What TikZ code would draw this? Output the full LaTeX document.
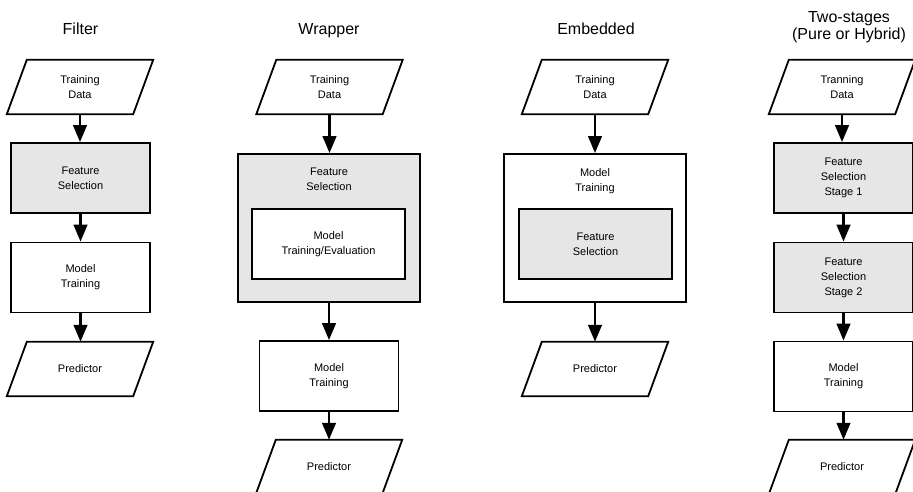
\documentclass[tikz,border=0pt]{standalone}
\usepackage{fontspec}
\setmainfont{Liberation Sans}
\usetikzlibrary{arrows.meta}
\definecolor{fsgray}{HTML}{E6E6E6}
\newcommand\drawpara[1]{\draw[pline] ([xshift=10pt]#1.north west) -- ([xshift=10pt]#1.north east) -- ([xshift=-10pt]#1.south east) -- ([xshift=-10pt]#1.south west) -- cycle;}
\begin{document}
\begin{tikzpicture}[x=1pt,y=-1pt,
  every node/.style={font=\fontsize{11}{15}\selectfont, align=center, inner sep=0pt},
  box/.style={draw, line width=1.8pt, minimum width=139pt, minimum height=70pt},
  gbox/.style={box, fill=fsgray},
  bigbox/.style={draw, line width=1.8pt, minimum width=182pt, minimum height=148pt},
  innerbox/.style={draw, line width=1.8pt, minimum width=153pt, minimum height=70pt},
  para/.style={minimum width=126pt, minimum height=54pt},
  pline/.style={line width=1.8pt, line join=miter},
  title/.style={font=\fontsize{16}{17}\selectfont},
  flow/.style={line width=2.8pt, -{Triangle[length=17pt,width=13.5pt]}}
]
\useasboundingbox (0,0) rectangle (913,492);

% ---------- Filter ----------
\node[title, anchor=base] (t1) at (80.5,35) {Filter};
\node[para] (f-td) at (80,87) {Training\\Data};
\node[gbox] (f-fs) at (80.5,178) {Feature\\Selection};
\node[box] (f-mt) at (80.5,277.5) {Model\\Training};
\node[para] (f-pr) at (80,369) {Predictor};
\drawpara{f-td}
\drawpara{f-pr}
\draw[flow] (f-td.south) -- (f-td.south |- f-fs.north);
\draw[flow] (f-fs.south) -- (f-fs.south |- f-mt.north);
\draw[flow] (f-mt.south) -- (f-mt.south |- f-pr.north);

% ---------- Wrapper ----------
\node[title, anchor=base] (t2) at (329,35) {Wrapper};
\node[para] (w-td) at (329.5,87) {Training\\Data};
\node[bigbox, fill=fsgray] (w-fs) at (329,228) {};
\node[anchor=north] (w-fsl) at ([yshift=-14.8pt]w-fs.north) {Feature\\Selection};
\node[innerbox, fill=white] (w-in) at (328.5,244) {Model\\Training/Evaluation};
\node[box] (w-mt) at (329,376) {Model\\Training};
\node[para] (w-pr) at (329,467) {Predictor};
\drawpara{w-td}
\drawpara{w-pr}
\draw[flow] (w-td.south) -- (w-td.south |- w-fs.north);
\draw[flow] (w-fs.south) -- (w-fs.south |- w-mt.north);
\draw[flow] (w-mt.south) -- (w-mt.south |- w-pr.north);

% ---------- Embedded ----------
\node[title, anchor=base] (t3) at (596,35) {Embedded};
\node[para] (e-td) at (595,87) {Training\\Data};
\node[bigbox] (e-mt) at (595,228) {};
\node[anchor=north] (e-mtl) at ([yshift=-14.8pt]e-mt.north) {Model\\Training};
\node[innerbox, fill=fsgray] (e-in) at (595.5,244) {Feature\\Selection};
\node[para] (e-pr) at (595,369) {Predictor};
\drawpara{e-td}
\drawpara{e-pr}
\draw[flow] (e-td.south) -- (e-td.south |- e-mt.north);
\draw[flow] (e-mt.south) -- (e-mt.south |- e-pr.north);

% ---------- Two-stages ----------
\node[title, anchor=north] (t4) at (849,11.4) {Two-stages\\(Pure or Hybrid)};
\node[para] (s-td) at (842,87) {Tranning\\Data};
\node[gbox] (s-s1) at (843.5,178) {Feature\\Selection\\Stage 1};
\node[gbox] (s-s2) at (843.5,277.5) {Feature\\Selection\\Stage 2};
\node[box] (s-mt) at (843.5,376.5) {Model\\Training};
\node[para] (s-pr) at (842,467) {Predictor};
\drawpara{s-td}
\drawpara{s-pr}
\draw[flow] (s-td.south) -- (s-td.south |- s-s1.north);
\draw[flow] (s-s1.south) -- (s-s1.south |- s-s2.north);
\draw[flow] (s-s2.south) -- (s-s2.south |- s-mt.north);
\draw[flow] (s-mt.south) -- (s-mt.south |- s-pr.north);
\end{tikzpicture}
\end{document}
